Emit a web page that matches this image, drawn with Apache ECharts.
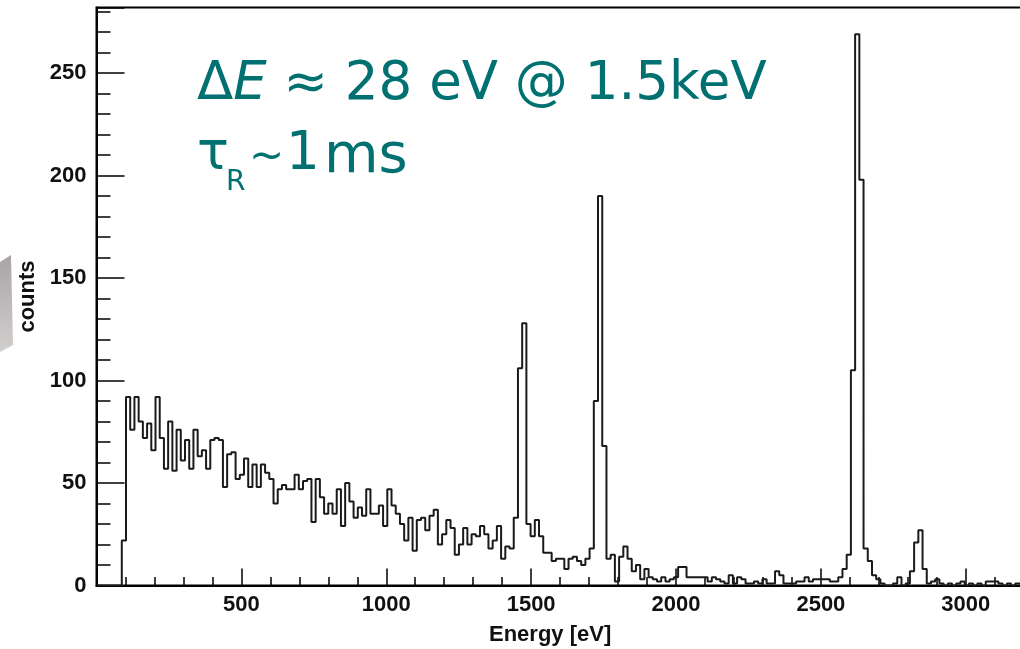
<!DOCTYPE html>
<html>
<head>
<meta charset="utf-8">
<script src="https://cdn.jsdelivr.net/npm/echarts@6/dist/echarts.min.js"></script>
<style>
html,body{margin:0;padding:0;background:#fff;}
#chart{width:1020px;height:649px;}
</style>
</head>
<body>
<div id="chart"></div>
<script>
// ---- data ----
const energyMin = 0;
const energyMax = 3200;
const binCount = 220;            // bins of 3200/220 eV
const counts = [
  0,0,0,0,0,0,22,92,76,92,
  80,72,79,66,92,72,57,80,56,76,
  61,71,57,76,63,66,57,71,72,71,
  48,64,65,52,54,62,48,59,48,59,
  55,52,40,47,49,47,47,54,47,51,
  52,31,52,43,35,40,35,47,29,50,
  41,33,38,34,47,35,35,39,29,47,
  39,35,30,22,33,17,32,33,27,34,
  37,20,25,32,28,15,20,28,20,25,
  24,29,25,18,22,29,13,19,18,33,
  106,128,30,24,32,24,16,16,12,13,
  13,8,13,14,12,10,13,18,90,190,
  68,13,15,2,14,19,13,7,10,3,
  8,4,3,2,4,2,3,4,9,9,
  4,4,4,4,4,2,4,3,2,1,
  5,1,4,3,1,1,2,1,3,1,
  1,7,5,1,1,1,2,2,4,2,
  3,3,3,3,2,2,4,8,15,105,
  269,198,18,12,5,3,1,0,0,1,
  4,0,1,7,21,27,8,1,2,3,
  1,0,1,0,1,2,0,1,0,1,
  0,2,2,2,1,0,1,0,1,1
];
const xMajorTicks = [500, 1000, 1500, 2000, 2500, 3000];
const yMajorTicks = [50, 100, 150, 200, 250];
const yMax = 282;
const xTitle = 'Energy [eV]';
const yTitle = 'counts';

// ---- build step points from bins ----
const binWidth = (energyMax - energyMin) / binCount;
const stepData = counts.map((c, i) => [energyMin + i * binWidth, c]);
stepData.push([energyMax, counts[counts.length - 1]]);

const chart = echarts.init(document.getElementById('chart'), null, {renderer: 'canvas'});
const labelFont = {fontFamily: 'Liberation Sans', fontWeight: 'bold', fontSize: 22, color: '#111'};
const teal = '#007070';
const fs = 53;

chart.setOption({
  animation: false,
  backgroundColor: '#fff',
  grid: {left: 96.5, top: 7.5, right: -3.7, bottom: 63.5, outerBoundsMode: 'none', containLabel: false,
         show: true, borderColor: '#000', borderWidth: 2, backgroundColor: 'transparent'},
  xAxis: [{
    type: 'value', min: energyMin, max: energyMax, interval: 100, position: 'bottom',
    axisLine: {show: true, lineStyle: {color: '#000', width: 2}},
    axisTick: {show: true, inside: true, length: 8.5, lineStyle: {color: '#000', width: 1.5}},
    axisLabel: Object.assign({margin: 8, formatter: v => xMajorTicks.indexOf(v) >= 0 ? String(v) : ''}, labelFont),
    splitLine: {show: false},
    name: xTitle, nameLocation: 'middle', nameGap: 38,
    nameTextStyle: Object.assign({padding: [0, 20, 0, 0]}, labelFont)
  }, {
    type: 'value', min: energyMin, max: energyMax, interval: 500, position: 'bottom',
    axisLine: {show: false},
    axisTick: {show: true, inside: true, length: 17, lineStyle: {color: '#000', width: 1.5}},
    axisLabel: {show: false}, splitLine: {show: false}
  }],
  yAxis: [{
    type: 'value', min: 0, max: yMax, interval: 10, position: 'left',
    axisLine: {show: true, lineStyle: {color: '#000', width: 2}},
    axisTick: {show: true, inside: true, length: 14, lineStyle: {color: '#000', width: 1.5}},
    axisLabel: Object.assign({margin: 10, formatter: v => (v === 0 || yMajorTicks.indexOf(v) >= 0) ? String(v) : ''}, labelFont),
    splitLine: {show: false},
    name: yTitle, nameLocation: 'middle', nameGap: 56, nameRotate: 90,
    nameTextStyle: labelFont
  }, {
    type: 'value', min: 0, max: yMax, interval: 50, position: 'left',
    axisLine: {show: false},
    axisTick: {show: true, inside: true, length: 28, lineStyle: {color: '#000', width: 1.5}},
    axisLabel: {show: false}, splitLine: {show: false}
  }],
  series: [{
    type: 'line', xAxisIndex: 0, yAxisIndex: 0, step: 'end',
    data: stepData, showSymbol: false, symbol: 'none',
    lineStyle: {color: '#1a1a1a', width: 2}, z: 3
  }],
  graphic: [
    {type: 'polygon', shape: {points: [[0, 262], [11, 255], [13, 345], [0, 352]]},
     style: {fill: new echarts.graphic.LinearGradient(0, 0, 0, 1, [{offset: 0, color: '#a9a4a4'}, {offset: 1, color: '#d2cfcf'}])}, z: 0},
    {type: 'text', left: 197, top: 59, style: {
      text: '{n|Δ}{i|E}{n| ≈ 28 eV @ 1.5keV}',
      rich: {
        n: {fontFamily: 'DejaVu Sans', fontSize: fs, fill: teal},
        i: {fontFamily: 'DejaVu Sans', fontStyle: 'italic', fontSize: fs, fill: teal}
      }
    }},
    {type: 'text', left: 197, top: 129, style: {text: 'τ', fontFamily: 'DejaVu Sans', fontSize: fs, fill: teal}},
    {type: 'text', left: 226, top: 169, style: {text: 'R', fontFamily: 'DejaVu Sans', fontSize: 28, fill: teal}},
    {type: 'text', left: 249, top: 137, style: {text: '~', fontFamily: 'DejaVu Sans', fontSize: 42, fill: teal}},
    {type: 'text', left: 286, top: 129, style: {text: '1', fontFamily: 'DejaVu Sans', fontSize: fs, fill: teal}},
    {type: 'text', left: 324, top: 129, style: {text: 'ms', fontFamily: 'DejaVu Sans', fontSize: fs + 3, fill: teal}}
  ]
});
</script>
</body>
</html>
